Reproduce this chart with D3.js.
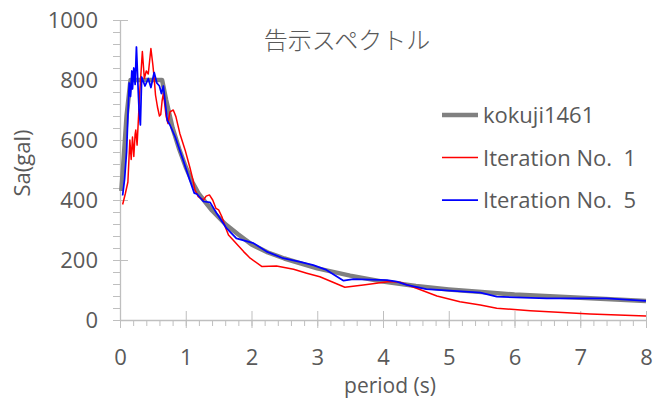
<!DOCTYPE html>
<html>
<head>
<meta charset="utf-8">
<script src="https://cdn.jsdelivr.net/npm/d3@7"></script>
<style>
  body { margin: 0; background: #fff; }
  svg text { font-family: "Open Sans", sans-serif; fill: #595959; }
</style>
</head>
<body>
<div id="chart"></div>
<script>
// period (s) and Sa (gal)
const kokujiT  = [0.02, 0.05, 0.1, 0.16, 0.64, 0.7, 0.8, 0.9, 1.0, 1.1, 1.2, 1.4, 1.6, 1.8, 2.0, 2.25, 2.5, 3.0, 3.5, 4.0, 4.5, 5.0, 5.5, 6.0, 7.0, 8.0];
const kokujiSa = [430, 520, 680, 800, 800, 735, 640, 570, 510, 460, 420, 365, 320, 285, 252, 225, 205, 172, 148, 128, 113, 102, 93, 85, 74, 63];

const iter1T  = [0.04, 0.08, 0.12, 0.15, 0.17, 0.19, 0.21, 0.23, 0.24, 0.26, 0.3, 0.34, 0.37, 0.4, 0.43, 0.47, 0.5, 0.52, 0.54, 0.57, 0.6, 0.62, 0.64, 0.66, 0.68, 0.7, 0.73, 0.76, 0.81, 0.85, 0.91, 0.99, 1.06, 1.11, 1.14, 1.19, 1.27, 1.31, 1.36, 1.41, 1.46, 1.5, 1.55, 1.6, 1.65, 1.72, 1.88, 1.98, 2.16, 2.38, 2.64, 2.84, 3.04, 3.42, 3.7, 4.1, 4.26, 4.51, 4.82, 5.17, 5.48, 5.73, 6.24, 7.15, 8.0];
const iter1Sa = [385, 420, 460, 600, 535, 610, 545, 620, 633, 583, 757, 895, 805, 830, 820, 905, 850, 805, 750, 710, 680, 685, 730, 755, 720, 680, 655, 694, 700, 678, 622, 567, 511, 467, 433, 411, 400, 413, 417, 400, 372, 367, 344, 311, 283, 267, 228, 206, 178, 180, 169, 156, 144, 109, 117, 128, 126, 106, 80, 61, 50, 39, 31, 20, 13];

const iter5T  = [0.04, 0.07, 0.1, 0.12, 0.14, 0.16, 0.18, 0.19, 0.21, 0.23, 0.25, 0.27, 0.29, 0.31, 0.33, 0.38, 0.43, 0.47, 0.52, 0.56, 0.6, 0.63, 0.66, 0.69, 0.72, 0.76, 0.84, 0.96, 1.06, 1.13, 1.17, 1.27, 1.37, 1.47, 1.62, 1.77, 2.03, 2.23, 2.48, 2.74, 2.94, 3.14, 3.4, 3.55, 4.06, 4.21, 4.36, 4.66, 5.07, 5.48, 5.73, 6.49, 7.4, 8.0];
const iter5Sa = [415, 470, 560, 680, 790, 745, 830, 770, 840, 785, 910, 800, 700, 650, 810, 780, 805, 775, 825, 790, 780, 755, 780, 720, 665, 650, 610, 533, 467, 423, 420, 395, 392, 356, 306, 272, 256, 228, 206, 194, 183, 167, 131, 136, 133, 128, 117, 103, 97, 91, 78, 72, 72, 64];

const seriesNames = ["kokuji1461", "Iteration No.\u00a0 1", "Iteration No.\u00a0 5"];
const xTicks = [0, 1, 2, 3, 4, 5, 6, 7, 8];
const yTicks = [0, 200, 400, 600, 800, 1000];

const series = [
    { name: seriesNames[0], t: kokujiT, sa: kokujiSa, color: "#808080", width: 4.5 },
    { name: seriesNames[1], t: iter1T, sa: iter1Sa, color: "#ff0000", width: 1.5 },
    { name: seriesNames[2], t: iter5T, sa: iter5Sa, color: "#0000ff", width: 1.75 }
];

const svgWidth = 653, svgHeight = 399;
const margin = { top: 20, right: 7, bottom: 79, left: 120 };
const width = svgWidth - margin.left - margin.right;
const height = svgHeight - margin.top - margin.bottom;
const axisColor = "#bfbfbf";

const svg = d3.select("#chart").append("svg")
    .attr("width", svgWidth)
    .attr("height", svgHeight);

const g = svg.append("g")
    .attr("transform", `translate(${margin.left},${margin.top})`);

const x = d3.scaleLinear().domain([0, 8]).range([0, width]);
const y = d3.scaleLinear().domain([0, 1000]).range([height, 0]);

// minor ticks
g.append("g")
    .attr("transform", `translate(0,${height})`)
    .call(d3.axisBottom(x).tickValues(d3.range(0, 8.001, 0.2)).tickSize(6).tickFormat(""))
    .call(a => a.select(".domain").remove())
    .call(a => a.selectAll("line").attr("stroke", axisColor));

g.append("g")
    .call(d3.axisLeft(y).tickValues(d3.range(0, 1000.1, 40)).tickSize(7).tickFormat(""))
    .call(a => a.select(".domain").remove())
    .call(a => a.selectAll("line").attr("stroke", axisColor));

// major axes
const xAxis = g.append("g")
    .attr("transform", `translate(0,${height})`)
    .call(d3.axisBottom(x).tickValues(xTicks).tickFormat(d3.format("d")).tickSizeOuter(0).tickPadding(23));
xAxis.selectAll("line").attr("y1", -9).attr("y2", 8).attr("stroke", axisColor);
xAxis.select(".domain").attr("stroke", axisColor).attr("stroke-width", 1.3);
xAxis.selectAll("text").style("font-size", "22px").attr("fill", "#595959");

const yAxis = g.append("g")
    .call(d3.axisLeft(y).tickValues(yTicks).tickFormat(d3.format("d")).tickSizeOuter(0).tickPadding(16));
yAxis.selectAll("line").attr("x1", -7).attr("x2", 8).attr("stroke", axisColor);
yAxis.select(".domain").attr("stroke", axisColor).attr("stroke-width", 1.3);
yAxis.selectAll("text").style("font-size", "22px").attr("fill", "#595959");

// lines
const line = d3.line()
    .x(d => x(d[0]))
    .y(d => y(d[1]));

series.forEach(s => {
    g.append("path")
        .datum(d3.zip(s.t, s.sa))
        .attr("fill", "none")
        .attr("stroke", s.color)
        .attr("stroke-width", s.width)
        .attr("stroke-linejoin", "round")
        .attr("d", line);
});

// title
svg.append("text")
    .attr("x", 347)
    .attr("y", 49)
    .attr("text-anchor", "middle")
    .style("font-family", "'Noto Sans CJK JP', sans-serif")
    .style("font-size", "24px")
    .style("font-weight", 300)
    .text("告示スペクトル");

// legend
const legend = svg.append("g").attr("transform", "translate(442,115)");
series.forEach((s, i) => {
    const row = legend.append("g").attr("transform", `translate(0,${i * 42.5})`);
    row.append("line")
        .attr("x1", 0).attr("x2", 36)
        .attr("stroke", s.color)
        .attr("stroke-width", s.width);
    row.append("text")
        .attr("x", 41)
        .attr("y", 8)
        .style("font-size", "22px")
        .text(s.name);
});

// axis titles
svg.append("text")
    .attr("x", margin.left + width / 2 + 7)
    .attr("y", 393)
    .attr("text-anchor", "middle")
    .style("font-size", "21px")
    .text("period (s)");

svg.append("text")
    .attr("transform", "translate(30,163) rotate(-90)")
    .attr("text-anchor", "middle")
    .style("font-size", "22px")
    .text("Sa(gal)");
</script>
</body>
</html>
